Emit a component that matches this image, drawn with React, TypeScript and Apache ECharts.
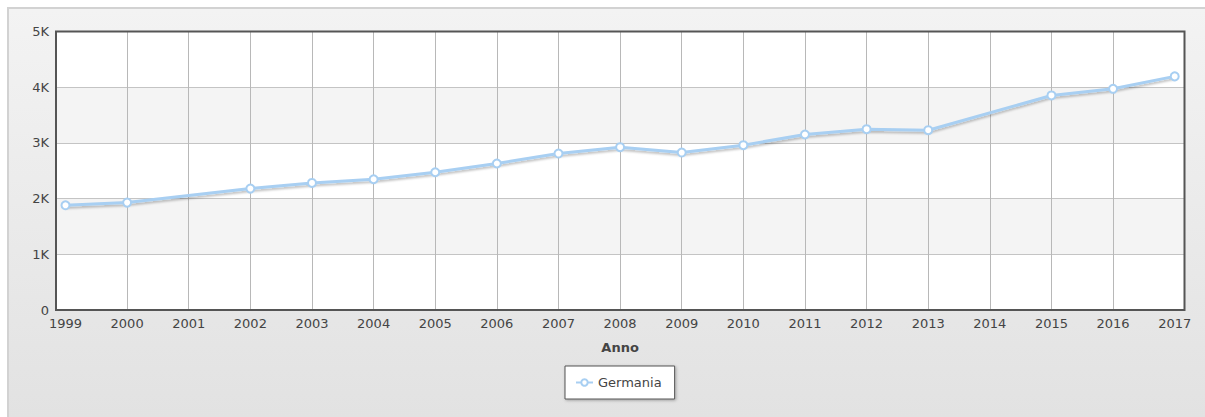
import React, { useEffect, useRef } from "react";
import * as echarts from "echarts";

const years = ["1999","2000","2001","2002","2003","2004","2005","2006","2007","2008","2009","2010","2011","2012","2013","2014","2015","2016","2017"];
const germania: (number | null)[] = [1880, 1928, null, 2180, 2281, 2347, 2473, 2630, 2809, 2923, 2827, 2959, 3151, 3246, 3228, null, 3852, 3971, 4194];
const yTickLabels = ["0", "1K", "2K", "3K", "4K", "5K"];
const seriesName = "Germania";
const xAxisTitle = "Anno";

const FONT = "DejaVu Sans";
const LINE = "#a8cff2";

export default function App() {
  const ref = useRef<HTMLDivElement>(null);
  useEffect(() => {
    if (!ref.current) return;
    const chart = echarts.init(ref.current, null, { renderer: "svg" });
    const plotL = 56, plotT = 31.5, plotR = 1184.5, plotB = 310;
    const dataL = 65.5, dataR = 1174.7;
    chart.setOption({
      animation: false,
      textStyle: { fontFamily: FONT },
      grid: [
        { left: plotL, top: plotT, width: plotR - plotL, height: plotB - plotT, show: false },
        { left: dataL, top: plotT, width: dataR - dataL, height: plotB - plotT, show: false },
      ],
      xAxis: [
        { type: "value", gridIndex: 0, min: 0, max: 1, show: false },
        {
          type: "category",
          gridIndex: 1,
          data: years,
          boundaryGap: false,
          axisLine: { show: false },
          axisTick: { show: false },
          axisLabel: { color: "#444", fontSize: 13, fontFamily: FONT, margin: 7, interval: 0 },
          splitLine: {
            show: true,
            interval: (i: number) => i !== 0 && i !== years.length - 1,
            lineStyle: { color: "#b8b8b8", width: 1 },
          },
          name: xAxisTitle,
          nameLocation: "middle",
          nameGap: 31,
          nameTextStyle: { color: "#444", fontSize: 13, fontWeight: "bold", fontFamily: FONT },
        },
      ],
      yAxis: [
        {
          type: "value",
          gridIndex: 0,
          min: 0,
          max: 5000,
          interval: 1000,
          axisLine: { show: false },
          axisTick: { show: false },
          axisLabel: {
            color: "#444",
            fontSize: 13,
            fontFamily: FONT,
            margin: 7,
            formatter: (v: number) => yTickLabels[Math.round(v / 1000)],
          },
          splitLine: { show: true, lineStyle: { color: "#c4c4c4", width: 1 } },
          splitArea: { show: true, areaStyle: { color: ["#ffffff", "#f4f4f4"] } },
        },
        { type: "value", gridIndex: 1, min: 0, max: 5000, show: false },
      ],
      legend: {
        data: [seriesName],
        left: 565,
        top: 366,
        padding: [10, 13, 10, 10],
        itemWidth: 17,
        itemHeight: 8,
        itemGap: 5,
        itemStyle: { borderWidth: 1.5 },
        backgroundColor: "#ffffff",
        borderColor: "#555555",
        borderWidth: 1,
        shadowColor: "rgba(0,0,0,0.3)",
        shadowBlur: 3,
        shadowOffsetX: 1,
        shadowOffsetY: 1,
        textStyle: { color: "#444", fontSize: 13, fontFamily: FONT },
      },
      graphic: [
        {
          type: "rect",
          z: 100,
          silent: true,
          shape: { x: plotL, y: plotT, width: plotR - plotL, height: plotB - plotT },
          style: { fill: "none", stroke: "#555555", lineWidth: 2 },
        },
      ],
      series: [
        {
          name: seriesName,
          type: "line",
          xAxisIndex: 1,
          yAxisIndex: 1,
          data: germania,
          connectNulls: true,
          symbol: "emptyCircle",
          symbolSize: 8,
          z: 10,
          lineStyle: {
            color: LINE,
            width: 3,
            shadowColor: "rgba(0,0,0,0.25)",
            shadowBlur: 2,
            shadowOffsetY: 2,
          },
          itemStyle: { color: LINE, borderColor: LINE, borderWidth: 1.5 },
        },
      ],
    });
    return () => chart.dispose();
  }, []);
  return (
    <>
      <div
        style={{
          position: "absolute",
          left: 7,
          top: 7,
          width: 1198,
          height: 410,
          boxSizing: "border-box",
          borderTop: "2px solid #d2d2d2",
          borderLeft: "2px solid #d2d2d2",
          background: "linear-gradient(to bottom, #f3f3f3, #e2e2e2)",
        }}
      />
      <div ref={ref} style={{ position: "absolute", left: 0, top: 0, width: 1205, height: 417 }} />
    </>
  );
}
